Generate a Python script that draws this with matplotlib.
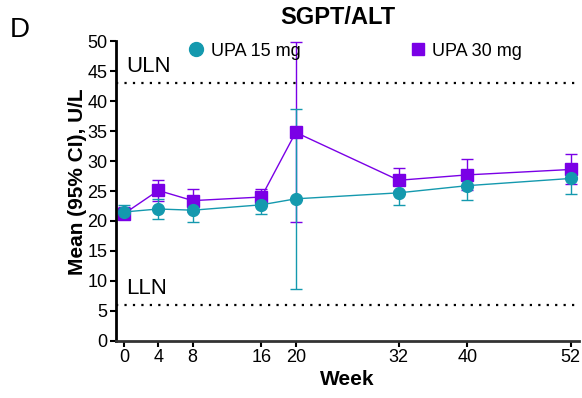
import numpy as np
import matplotlib
matplotlib.use('Agg')
import matplotlib.pyplot as plt
from matplotlib.lines import Line2D

plt.rcParams['font.family'] = ['Liberation Sans', 'DejaVu Sans']

weeks = [0, 4, 8, 16, 20, 32, 40, 52]

##UPA 15 mg: mean and 95% CI
upa15_mean = [21.5, 22.0, 21.8, 22.7, 23.7, 24.7, 25.9, 27.1]
upa15_lo = [20.5, 20.3, 19.9, 21.2, 8.6, 22.7, 23.5, 24.5]
upa15_hi = [22.7, 23.7, 23.6, 24.1, 38.7, 26.8, 28.2, 29.6]

##UPA 30 mg: mean and 95% CI
upa30_mean = [21.2, 25.1, 23.4, 24.0, 34.8, 26.8, 27.7, 28.6]
upa30_lo = [20.3, 23.4, 21.5, 22.6, 19.9, 25.0, 25.2, 26.1]
upa30_hi = [22.3, 26.8, 25.4, 25.4, 49.9, 28.8, 30.3, 31.2]

uln = 43
lln = 6

teal = '#1499ae'
purple = '#7a00e6'

fig = plt.figure(figsize=(5.82, 3.98), dpi=100)
ax = fig.add_axes([0.199, 0.144, 0.796, 0.752])

def plot_series(mean, lo, hi, color, marker, ms):
    mean = np.array(mean)
    yerr = [mean - np.array(lo), np.array(hi) - mean]
    ax.errorbar(weeks, mean, yerr=yerr, color=color, marker=marker, ms=ms,
                lw=1.0, elinewidth=1.0, capsize=4.5, capthick=1.0)

plot_series(upa30_mean, upa30_lo, upa30_hi, purple, 's', 8.5)
plot_series(upa15_mean, upa15_lo, upa15_hi, teal, 'o', 8.5)

##Reference limits
ax.axhline(uln, color='black', ls=(0, (1, 2.8)), lw=1.6)
ax.axhline(lln, color='black', ls=(0, (1, 2.8)), lw=1.6)
ax.text(0.3, uln + 1.0, 'ULN', fontsize=16, va='bottom', ha='left')
ax.text(0.3, lln + 1.0, 'LLN', fontsize=16, va='bottom', ha='left')

ax.set_xlim(-0.95, 53)
ax.set_ylim(0, 50)
ax.set_xticks(weeks)
ax.set_yticks(np.arange(0, 51, 5))
ax.tick_params(labelsize=13, length=4, width=1.5, pad=2)
for s in ['top', 'right']:
    ax.spines[s].set_visible(False)
for s in ['left', 'bottom']:
    ax.spines[s].set_linewidth(2)
ax.spines['bottom'].set_color('#333333')

ax.set_xlabel('Week', fontsize=15, fontweight='bold', labelpad=3)
ax.set_ylabel('Mean (95% CI), U/L', fontsize=15, fontweight='bold')
ax.yaxis.set_label_coords(-0.062, 0.53)

##Legend laid out as two entries across the top
handles = [Line2D([], [], ls='none', marker='o', ms=10, color=teal),
           Line2D([], [], ls='none', marker='s', ms=9, color=purple)]
ax.legend(handles, ['UPA 15 mg', 'UPA 30 mg'], ncol=2, frameon=False, fontsize=13,
          loc='upper left', bbox_to_anchor=(0.119, 1.05), columnspacing=6.0,
          handletextpad=0.3, handlelength=1.0)

fig.text(0.58, 0.955, 'SGPT/ALT', fontsize=17, fontweight='bold', ha='center', va='center')
fig.text(0.016, 0.925, 'D', fontsize=20, ha='left', va='center')

fig.savefig('out.png', dpi=100)
